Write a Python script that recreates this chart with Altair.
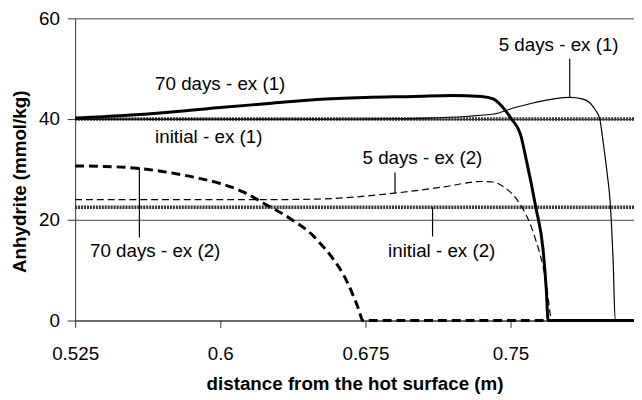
import altair as alt
import pandas as pd

X_MIN = 0.525
X_MAX = 0.8138
FONT = "Liberation Sans"

# initial profiles
x_init_ex1 = [0.525, 0.8138]
y_init_ex1 = [40.0, 40.0]
x_init_ex2 = [0.525, 0.8138]
y_init_ex2 = [22.5, 22.5]

# 70 days - ex (1)  (thick solid)
x_70_ex1 = [0.525, 0.55, 0.575, 0.6, 0.625, 0.65, 0.675, 0.7, 0.72, 0.735, 0.741,
            0.7454, 0.7505, 0.7551, 0.7582, 0.7631, 0.7668, 0.7685, 0.7694, 0.8138]
y_70_ex1 = [40.2, 40.7, 41.4, 42.3, 43.1, 43.9, 44.3, 44.5, 44.7, 44.5, 44.0,
            42.6, 40.0, 37.0, 31.8, 22.4, 14.1, 6.0, 0.0, 0.0]

# 5 days - ex (1)  (thin solid)
x_5_ex1 = [0.525, 0.6, 0.65, 0.68, 0.7072, 0.7413, 0.7515, 0.7617, 0.7806, 0.787,
           0.7908, 0.7935, 0.796, 0.798, 0.8, 0.8014, 0.803, 0.8041, 0.8138]
y_5_ex1 = [40.0, 40.0, 40.0, 40.05, 40.2, 41.0, 42.2, 43.2, 44.3, 44.0,
           43.3, 42.0, 40.2, 35.0, 29.0, 23.9, 12.0, 0.0, 0.0]

# 5 days - ex (2)  (thin dashed)
x_5_ex2 = [0.525, 0.575, 0.625, 0.6495, 0.6903, 0.715, 0.7347, 0.741, 0.7449,
           0.7499, 0.7535, 0.7618, 0.7684, 0.7714, 0.8138]
y_5_ex2 = [24.0, 24.0, 24.0, 24.1, 25.3, 26.5, 27.6, 27.5, 26.9,
           25.5, 23.9, 17.4, 7.6, 0.0, 0.0]

# 70 days - ex (2)  (thick dashed)
x_70_ex2 = [0.525, 0.54, 0.555, 0.57, 0.5883, 0.6, 0.6121, 0.6223, 0.6359, 0.6478,
            0.651, 0.658, 0.6638, 0.6682, 0.6719, 0.6735, 0.8138]
y_70_ex2 = [30.7, 30.6, 30.3, 29.6, 28.3, 27.2, 25.5, 23.3, 20.3, 16.9,
            15.6, 12.4, 9.0, 5.4, 1.8, 0.0, 0.0]

# annotations
label_text = ["70 days - ex (1)", "initial - ex (1)", "5 days - ex (1)",
              "5 days - ex (2)", "70 days - ex (2)", "initial - ex (2)"]
label_x = [0.5663, 0.5663, 0.7439, 0.6735, 0.5327, 0.6867]
label_y = [46.9, 36.5, 54.7, 32.2, 13.7, 13.7]

# leader lines
leader_x = [0.7806, 0.6903, 0.5582, 0.7097]
leader_y1 = [52.0, 29.4, 16.5, 16.7]
leader_y2 = [44.3, 25.3, 30.4, 22.5]

x_ticks = [0.525, 0.6, 0.675, 0.75]
y_ticks = [0, 20, 40, 60]

xscale = alt.Scale(domain=[X_MIN, X_MAX], nice=False, zero=False)
yscale = alt.Scale(domain=[0, 60], nice=False, zero=True)

x_axis = alt.Axis(values=x_ticks, format=".3~g", grid=False, tickSize=7,
                  labelPadding=18, labelFontSize=19, labelFont=FONT, labelFlush=False,
                  labelColor="#000", domainColor="#333", tickColor="#333",
                  title="distance from the hot surface (m)", titleFont=FONT,
                  titleFontSize=19, titleFontWeight="bold", titleColor="#000",
                  titleX=283, titleY=64, titleBaseline="middle", titleAlign="center")
y_axis = alt.Axis(values=y_ticks, format=".3~g", grid=True, gridColor="#444", gridWidth=1,
                  tickSize=8, labelPadding=8, labelFontSize=19, labelFont=FONT,
                  labelColor="#000", domainColor="#333", tickColor="#333",
                  title="Anhydrite (mmol/kg)", titleFont=FONT, titleFontSize=19,
                  titleFontWeight="bold", titleColor="#000", titleAngle=270,
                  titleX=-56, titleY=165, titleBaseline="middle", titleAlign="center")

X_ENC = dict(scale=xscale, axis=x_axis)
Y_ENC = dict(scale=yscale, axis=y_axis)


def line_layer(xs, ys, width, dash=None, color="#000"):
    df = pd.DataFrame({"x": xs, "y": ys, "o": list(range(len(xs)))})
    props = dict(color=color, strokeWidth=width, clip=False, interpolate="monotone")
    if dash:
        props["strokeDash"] = dash
    return alt.Chart(df).mark_line(**props).encode(
        x=alt.X("x:Q", **X_ENC),
        y=alt.Y("y:Q", **Y_ENC),
        order="o:Q",
    )


init1 = line_layer(x_init_ex1, y_init_ex1, 3.5, dash=[2, 1], color="#333")
init2 = line_layer(x_init_ex2, y_init_ex2, 3.5, dash=[2, 1], color="#333")
l70_1 = line_layer(x_70_ex1, y_70_ex1, 3)
l5_1 = line_layer(x_5_ex1, y_5_ex1, 1.2)
l5_2 = line_layer(x_5_ex2, y_5_ex2, 1.2, dash=[7, 4])
l70_2 = line_layer(x_70_ex2, y_70_ex2, 3, dash=[9, 5])

ann_df = pd.DataFrame({"x": label_x, "y": label_y, "t": label_text})
labels = alt.Chart(ann_df).mark_text(align="left", baseline="middle", fontSize=19,
                                     font=FONT, color="#000").encode(
    x=alt.X("x:Q", **X_ENC),
    y=alt.Y("y:Q", **Y_ENC),
    text="t:N",
)

lead_df = pd.DataFrame({"x": leader_x, "y": leader_y1, "y2": leader_y2})
leaders = alt.Chart(lead_df).mark_rule(color="#000", strokeWidth=1.2).encode(
    x=alt.X("x:Q", **X_ENC),
    y=alt.Y("y:Q", **Y_ENC),
    y2="y2:Q",
)

chart = alt.layer(init1, init2, l70_2, l5_2, l5_1, l70_1, leaders, labels).properties(
    width=566, height=306,
    padding={"left": 68, "top": 8, "right": 0, "bottom": 76},
    autosize=alt.AutoSizeParams(type="none"),
    background="white",
).configure_view(stroke=None)

chart.save("out.html", embed_options={"renderer": "svg", "actions": False})
